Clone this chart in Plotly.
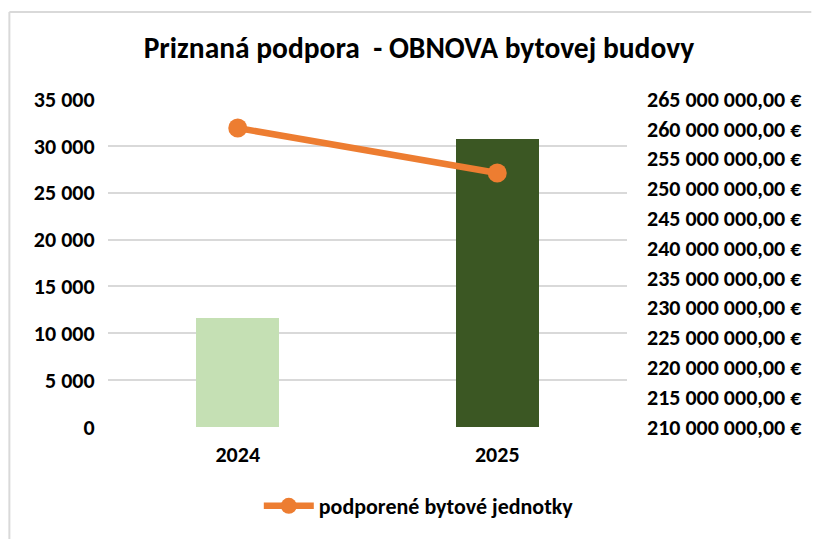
import plotly.graph_objects as go

years = ["2024", "2025"]
units = [31900, 27100]              # podporené bytové jednotky (left axis)
amounts = [228200000, 258300000]    # priznaná podpora € (right axis)
bar_colors = ["#C5E0B4", "#3B5723"]

left_ticks = list(range(0, 35001, 5000))
right_ticks = list(range(210000000, 265000001, 5000000))

def fmt_int(v):
    return f"{v:,}".replace(",", " ")

def fmt_eur(v):
    return f"{v:,.2f}".replace(",", " ").replace(".", ",") + " €"

FONT = "Carlito, Calibri, 'Liberation Sans Narrow', 'Noto Sans', sans-serif"

L, R, T, B = 108, 629, 99, 427
W, H = 814, 539
pw, ph = R - L, B - T
def px(x): return (x - L) / pw
def py(y): return (B - y) / ph

fig = go.Figure()
fig.add_trace(go.Bar(
    x=years, y=amounts, yaxis="y", marker=dict(color=bar_colors, line=dict(width=0)),
    width=0.318, showlegend=False, name="podpora",
))
fig.add_trace(go.Scatter(
    x=years, y=units, yaxis="y2", mode="lines+markers",
    line=dict(color="#ED7D31", width=6.5), marker=dict(color="#ED7D31", size=19),
    name="podporené bytové jednotky",
))

tickfont = dict(size=22, family=FONT, color="#000000", weight="bold")

fig.update_layout(
    width=W, height=H,
    margin=dict(l=L, r=W - R, t=T, b=H - B),
    paper_bgcolor="white", plot_bgcolor="white",
    font=dict(family=FONT, color="#000000", size=22),
    title=dict(text="<b>Priznaná podpora  - OBNOVA bytovej budovy</b>",
               x=419 / W, xanchor="center", y=1 - 48 / H, yanchor="middle",
               font=dict(size=29.5, family=FONT, color="#000000")),
    xaxis=dict(type="category", showgrid=False, showline=False, ticks="",
               tickfont=tickfont, ticklabelstandoff=12),
    # bars: euro axis on the right
    yaxis=dict(range=[210000000, 265000000], tickvals=right_ticks,
               ticktext=[fmt_eur(v) for v in right_ticks],
               side="right", showgrid=False,
               zeroline=False, showline=False, ticks="", ticklabelstandoff=19,
               tickfont=tickfont),
    # line: units axis on the left (grid drawn below data)
    yaxis2=dict(range=[0, 35000], tickvals=left_ticks,
                ticktext=[fmt_int(v) for v in left_ticks],
                overlaying="y", side="left",
                showgrid=True, gridcolor="#D9D9D9", gridwidth=2, zeroline=False,
                showline=False, ticks="outside", ticklen=8, tickcolor="rgba(0,0,0,0)",
                tickfont=tickfont),
    legend=dict(orientation="h", x=px(420), xanchor="center", y=py(506), yanchor="middle",
                font=dict(size=22, family=FONT, weight="bold"), itemwidth=50),
    bargap=0,
    shapes=[
        dict(type="line", xref="paper", yref="paper", x0=px(9), x1=px(814), y0=py(12), y1=py(12),
             line=dict(color="#D9D9D9", width=2)),
        dict(type="line", xref="paper", yref="paper", x0=px(9), x1=px(9), y0=py(12), y1=py(539),
             line=dict(color="#D9D9D9", width=2)),
    ],
)

fig.write_html("out.html", config={"displayModeBar": False},
               post_script="document.body.style.margin='0';document.body.style.overflow='hidden';")
